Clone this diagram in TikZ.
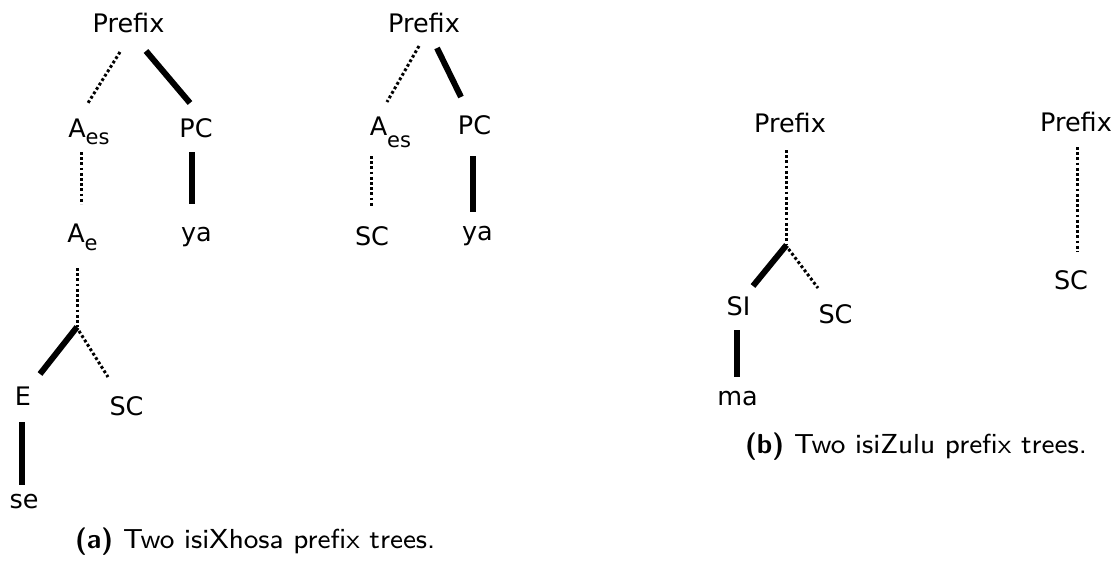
\documentclass[tikz,border=0pt]{standalone}
\usepackage{fontspec}
\newfontfamily\dv{DejaVu Sans}
\newfontfamily\capfont{lmsans8-regular.otf}[BoldFont=lmsans10-bold.otf]
\newcommand\mysub[2]{\rlap{\raisebox{-#1pt}{\fontsize{21}{21}\selectfont #2}}}
\begin{document}
\begin{tikzpicture}[x=1pt,y=-1pt,
  lbl/.style={font=\fontsize{25.5}{26}\dv, inner sep=0pt, anchor=base},
  thk/.style={line width=6pt},
  dts/.style={line width=3pt, dash pattern=on 2.8pt off 2.4pt},
  captxt/.style={font=\fontsize{27.5}{29}\capfont, inner sep=0pt, anchor=base west}]
\useasboundingbox (0,0) rectangle (1117,563);
% ---- tree a1
\node[lbl] (p1) at (128.5,32) {Prefix};
\node[lbl] (aes1) at (77,137) {A\mysub{7}{es}};
\node[lbl] (pc1) at (196,137) {PC};
\node[lbl] (ae1) at (76,242) {A\mysub{8}{e}};
\node[lbl] (ya1) at (196.5,241) {ya};
\coordinate (jn1) at (77,327);
\node[lbl] (e1) at (23,405) {E};
\node[lbl] (sc1) at (126.5,415) {SC};
\node[lbl] (se1) at (24,508) {se};
\draw[dts] ([shift={(-8.5,20)}]p1.base) -- ([shift={(11,-34)}]aes1.base);
\draw[thk] ([shift={(17.5,19)}]p1.base) -- ([shift={(-6,-34)}]pc1.base);
\draw[dts] ([shift={(4.5,15)}]aes1.base) -- ([shift={(5.5,-38)}]ae1.base);
\draw[thk] ([shift={(-4.5,15)}]pc1.base) -- ([shift={(-5,-37)}]ya1.base);
\draw[dts] ([shift={(1,26)}]ae1.base) -- (jn1);
\draw[thk] (jn1) -- ([shift={(17,-31)}]e1.base);
\draw[dts] ([shift={(2,4)}]jn1) -- ([shift={(-18.5,-38)}]sc1.base);
\draw[thk] ([shift={(-1,17)}]e1.base) -- ([shift={(-2,-23)}]se1.base);
% ---- tree a2
\node[lbl] (p2) at (424,32) {Prefix};
\node[lbl] (aes2) at (378.5,135) {A\mysub{12}{es}};
\node[lbl] (pc2) at (474.5,134) {PC};
\node[lbl] (sc2) at (372,245) {SC};
\node[lbl] (ya2) at (477.5,240) {ya};
\draw[dts] ([shift={(-5,14)}]p2.base) -- ([shift={(8.5,-33)}]aes2.base);
\draw[thk] ([shift={(13,16)}]p2.base) -- ([shift={(-13.5,-37)}]pc2.base);
\draw[dts] ([shift={(-7.5,21)}]aes2.base) -- ([shift={(-1,-38)}]sc2.base);
\draw[thk] ([shift={(-1.5,22)}]pc2.base) -- ([shift={(-4.5,-28)}]ya2.base);
% ---- tree b1
\node[lbl] (p3) at (790,132) {Prefix};
\coordinate (jn3) at (786.5,245);
\node[lbl] (si3) at (738.5,315) {SI};
\node[lbl] (sc3) at (835.5,323) {SC};
\node[lbl] (ma3) at (737.5,405) {ma};
\draw[dts] ([shift={(-3.5,18)}]p3.base) -- (jn3);
\draw[thk] (jn3) -- ([shift={(14.5,-29)}]si3.base);
\draw[dts] ([shift={(2,4)}]jn3) -- ([shift={(-17.5,-35)}]sc3.base);
\draw[thk] ([shift={(-2,15)}]si3.base) -- ([shift={(-1,-28)}]ma3.base);
% ---- tree b2
\node[lbl] (p4) at (1076,131) {Prefix};
\node[lbl] (sc4) at (1071,289) {SC};
\draw[dts] ([shift={(1,16)}]p4.base) -- ([shift={(6,-37)}]sc4.base);
% ---- captions
\node[captxt] (capa) at (75,548) {\textbf{(a)}\hspace{10pt}Two isiXhosa prefix trees.};
\node[captxt] (capb) at (745,453) {\textbf{(b)}\hspace{10pt}Two isiZulu prefix trees.};
\end{tikzpicture}
\end{document}
